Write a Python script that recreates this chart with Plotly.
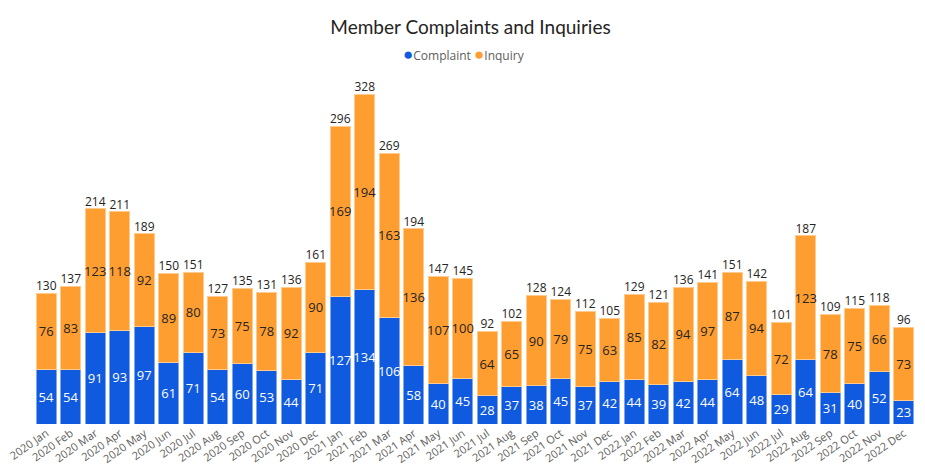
import plotly.graph_objects as go

months = ["2020 Jan","2020 Feb","2020 Mar","2020 Apr","2020 May","2020 Jun","2020 Jul","2020 Aug","2020 Sep","2020 Oct","2020 Nov","2020 Dec",
          "2021 Jan","2021 Feb","2021 Mar","2021 Apr","2021 May","2021 Jun","2021 Jul","2021 Aug","2021 Sep","2021 Oct","2021 Nov","2021 Dec",
          "2022 Jan","2022 Feb","2022 Mar","2022 Apr","2022 May","2022 Jun","2022 Jul","2022 Aug","2022 Sep","2022 Oct","2022 Nov","2022 Dec"]
complaint = [54,54,91,93,97,61,71,54,60,53,44,71,127,134,106,58,40,45,28,37,38,45,37,42,44,39,42,44,64,48,29,64,31,40,52,23]
inquiry = [76,83,123,118,92,89,80,73,75,78,92,90,169,194,163,136,107,100,64,65,90,79,75,63,85,82,94,97,87,94,72,123,78,75,66,73]
totals = [c + i for c, i in zip(complaint, inquiry)]
series_names = ["Complaint", "Inquiry"]

FONT = "Open Sans"
BLUE = "#0F5ADF"
ORANGE = "#FF9E30"

fig = go.Figure()
fig.add_trace(go.Bar(
    x=months, y=complaint, name=series_names[0], showlegend=False,
    marker=dict(color=BLUE, line=dict(color="#7FA6EE", width=1)),
    text=complaint, textposition="inside", insidetextanchor="middle",
    textangle=0, textfont=dict(color="white", size=13, family=FONT),
    constraintext="none",
))
fig.add_trace(go.Bar(
    x=months, y=inquiry, name=series_names[1], showlegend=False,
    marker=dict(color=ORANGE, line=dict(color="#FFCB8F", width=1)),
    text=inquiry, textposition="inside", insidetextanchor="middle",
    textangle=0, textfont=dict(color="#252423", size=13, family=FONT),
    constraintext="none",
))
fig.add_trace(go.Scatter(
    x=months, y=totals, mode="text", text=[str(t) for t in totals],
    textposition="top center", textfont=dict(color="#252423", size=12, family=FONT),
    showlegend=False, hoverinfo="skip", cliponaxis=False,
))

# compact legend (circle glyph + name) as text
legend_text = (f"<span style='color:{BLUE};font-size:17px'>●</span>{series_names[0]} "
               f"<span style='color:{ORANGE};font-size:17px'>●</span>{series_names[1]}")
fig.add_annotation(text=legend_text, xref="paper", yref="paper", x=0.487, y=1 + (62 - 45) / 354,
                   xanchor="center", yanchor="middle", showarrow=False,
                   font=dict(family=FONT, size=12, color="#605E5C"))

fig.update_layout(
    width=925, height=475,
    barmode="stack", bargap=0.2,
    paper_bgcolor="white", plot_bgcolor="white",
    margin=dict(l=26, r=17, t=62, b=59),
    uniformtext=dict(minsize=8, mode="show"),
    showlegend=False,
    title=dict(text="Member Complaints and Inquiries", x=0.5, xanchor="center",
               y=1 - 19 / 475, yanchor="middle",
               font=dict(family="Lato", size=19, color="#252423")),
    xaxis=dict(tickangle=-35, tickfont=dict(family=FONT, size=11, color="#605E5C"),
               showgrid=False, showline=False, ticks="", automargin=False,
               range=[-0.5, len(months) - 0.5]),
    yaxis=dict(visible=False, range=[0, 352], showgrid=False),
)
fig.write_html("out.html")
